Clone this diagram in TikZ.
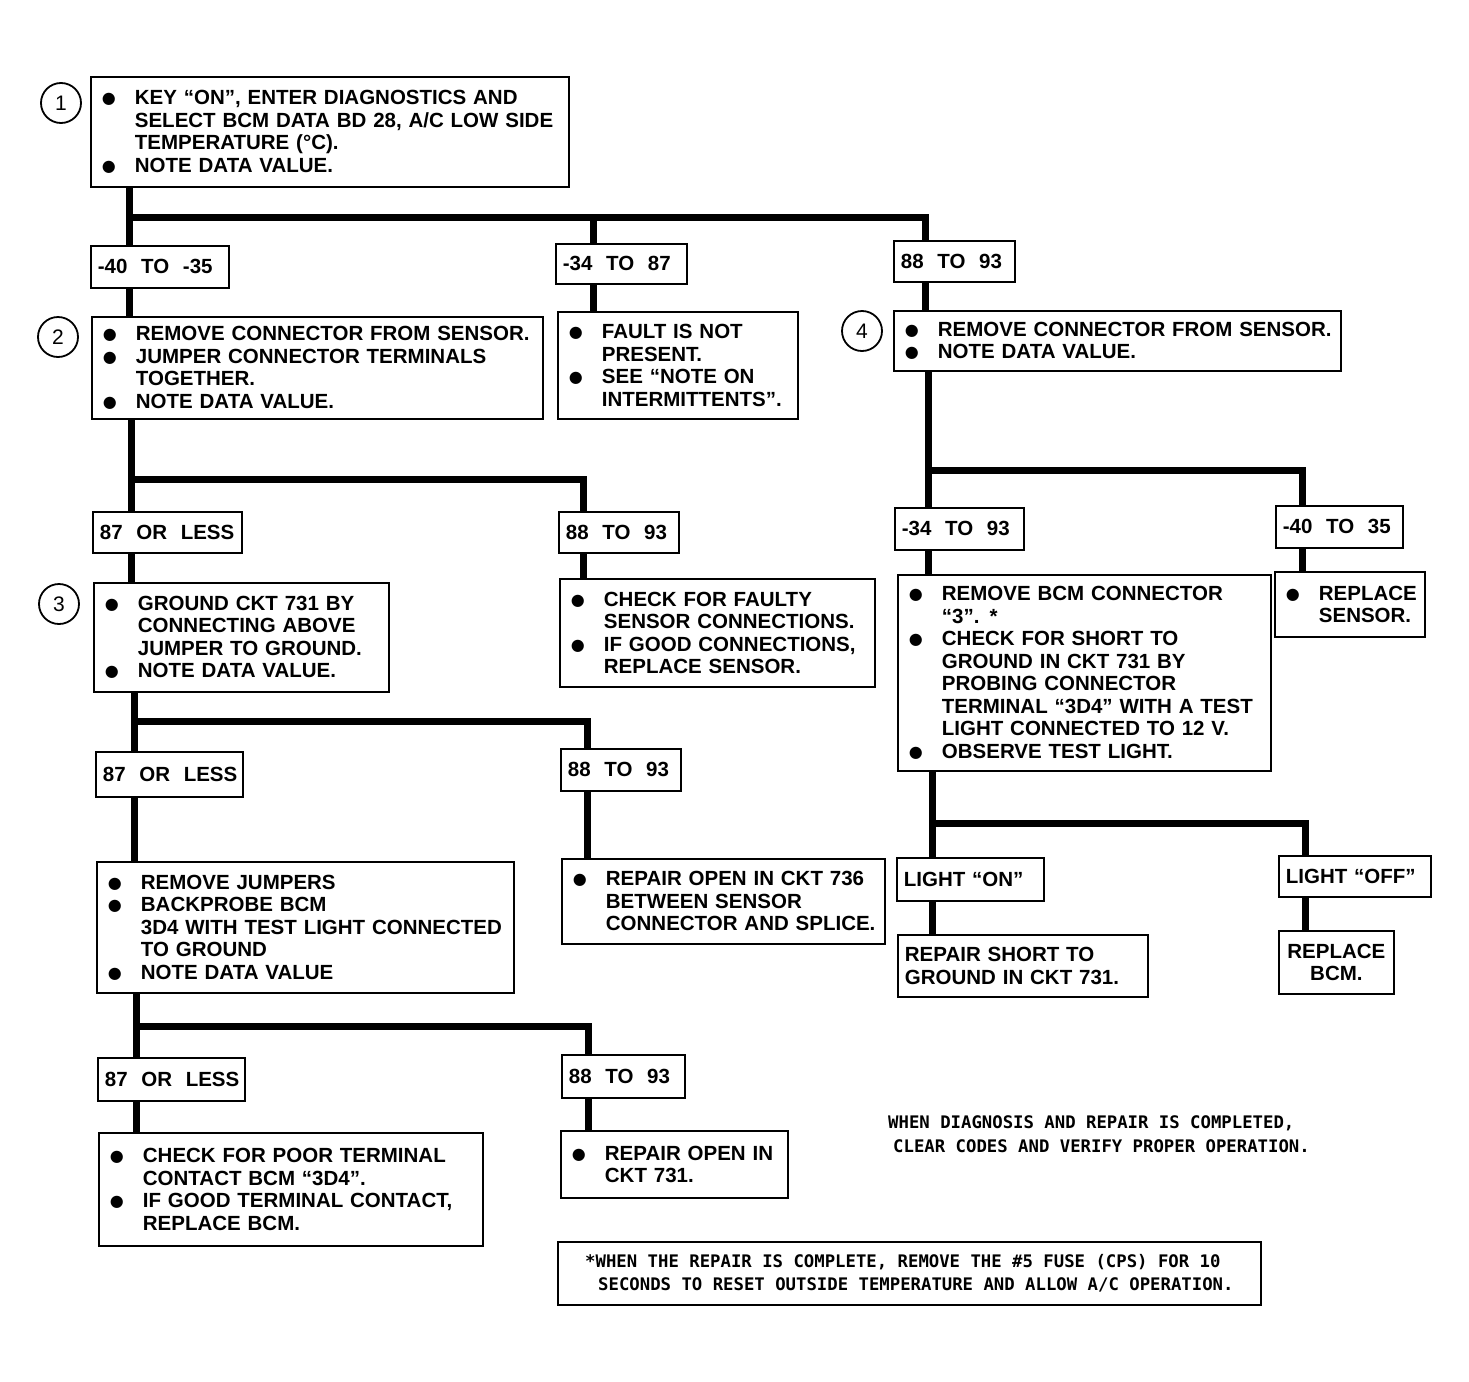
\documentclass[tikz,border=0pt]{standalone}
\usepackage{fontspec}
\setmainfont{Liberation Sans}
\newfontfamily\symf{DejaVu Sans}
\newfontfamily\dotf{DejaVu Sans Mono}
\newcommand\bl{\makebox[37pt][l]{\hspace{4pt}\raisebox{1pt}{\symf\fontsize{16}{16}\selectfont ●}}}
\newcommand\cl{\hspace*{37pt}}
\newcommand\bx[7][]{%
  \pgfmathsetmacro\bxw{#5-#3}%
  \pgfmathsetmacro\bxh{#6-#4}%
  \pgfmathsetmacro\bxt{#5-#3-14}%
  \node[box,minimum width=\bxw pt,minimum height=\bxh pt,text width=\bxt pt,#1] (#2) at (#3,#4) {#7};}
\newcommand\lb[6]{\bx{#1}{#2}{#3}{#4}{#5}{\mbox{#6}}}
\tikzset{
  box/.style={draw,line width=1.8pt,rectangle,anchor=north west,align=left,
    inner xsep=7pt,inner ysep=3pt,font=\bfseries\fontsize{20.5}{22.5}\selectfont},
  circ/.style={draw,circle,line width=1.8pt,minimum size=40pt,inner sep=0pt,
    font=\fontsize{21}{21}\selectfont},
  conn/.style={line width=7pt,line cap=butt,line join=miter},
  dot/.style={font=\dotf\bfseries\fontsize{17.3}{24}\selectfont,align=left,inner sep=0pt,anchor=north west}
}
\begin{document}
\begin{tikzpicture}[x=1pt,y=-1pt]
\fill[white] (0,0) rectangle (1469,1381);
\useasboundingbox (0,0) rectangle (1469,1381);

% step 1
\node[circ] (c1) at (61,103) {1};
\bx{b1}{90}{76}{568}{186}{\bl KEY “ON”, ENTER DIAGNOSTICS AND\\
\cl SELECT BCM DATA BD 28, A/C LOW SIDE\\
\cl TEMPERATURE (°C).\\
\bl NOTE DATA VALUE.}

\lb{l1}{90}{245}{228}{287}{-40 \ TO \ -35}
\lb{l2}{555}{243}{686}{283}{-34 \ TO \ 87}
\lb{l3}{893}{240}{1014}{281}{88 \ TO \ 93}

% step 2
\node[circ] (c2) at (58,337) {2};
\bx{b2}{91}{316}{542}{418}{\bl REMOVE CONNECTOR FROM SENSOR.\\
\bl JUMPER CONNECTOR TERMINALS\\
\cl TOGETHER.\\
\bl NOTE DATA VALUE.}
\bx{b2m}{557}{311}{797}{418}{\bl FAULT IS NOT\\
\cl PRESENT.\\
\bl SEE “NOTE ON\\
\cl INTERMITTENTS”.}

% step 4
\node[circ] (c4) at (862,331) {4};
\bx{b4}{893}{310}{1340}{370}{\bl REMOVE CONNECTOR FROM SENSOR.\\
\bl NOTE DATA VALUE.}

\lb{l4}{92}{511}{241}{552}{87 \ OR \ LESS}
\lb{l5}{558}{511}{678}{552}{88 \ TO \ 93}
\lb{l6}{894}{507}{1023}{549}{-34 \ TO \ 93}
\lb{l7}{1275}{505}{1402}{547}{-40 \ TO \ 35}

% step 3
\node[circ] (c3) at (59,604) {3};
\bx{b3}{93}{582}{388}{691}{\bl GROUND CKT 731 BY\\
\cl CONNECTING ABOVE\\
\cl JUMPER TO GROUND.\\
\bl NOTE DATA VALUE.}
\bx{b5}{559}{578}{874}{686}{\bl CHECK FOR FAULTY\\
\cl SENSOR CONNECTIONS.\\
\bl IF GOOD CONNECTIONS,\\
\cl REPLACE SENSOR.}
\bx{b6}{897}{574}{1270}{770}{\bl REMOVE BCM CONNECTOR\\
\cl “3”. *\\
\bl CHECK FOR SHORT TO\\
\cl GROUND IN CKT 731 BY\\
\cl PROBING CONNECTOR\\
\cl TERMINAL “3D4” WITH A TEST\\
\cl LIGHT CONNECTED TO 12 V.\\
\bl OBSERVE TEST LIGHT.}
\bx{b7}{1274}{571}{1424}{636}{\bl REPLACE\\
\cl SENSOR.}

\lb{l8}{95}{751}{242}{796}{87 \ OR \ LESS}
\lb{l9}{560}{748}{680}{790}{88 \ TO \ 93}
\bx{b8}{96}{861}{513}{992}{\bl REMOVE JUMPERS\\
\bl BACKPROBE BCM\\
\cl 3D4 WITH TEST LIGHT CONNECTED\\
\cl TO GROUND\\
\bl NOTE DATA VALUE}
\bx{b9}{561}{858}{884}{943}{\bl REPAIR OPEN IN CKT 736\\
\cl BETWEEN SENSOR\\
\cl CONNECTOR AND SPLICE.}

\lb{l10}{896}{857}{1043}{900}{LIGHT “ON”}
\lb{l11}{1278}{855}{1430}{896}{LIGHT “OFF”}
\bx{b10}{897}{934}{1147}{996}{REPAIR SHORT TO\\
GROUND IN CKT 731.}
\bx[align=center]{b11}{1278}{930}{1393}{993}{REPLACE\\ BCM.}

\lb{l12}{97}{1057}{244}{1100}{87 \ OR \ LESS}
\lb{l13}{561}{1054}{684}{1097}{88 \ TO \ 93}
\bx{b12}{98}{1132}{482}{1245}{\bl CHECK FOR POOR TERMINAL\\
\cl CONTACT BCM “3D4”.\\
\bl IF GOOD TERMINAL CONTACT,\\
\cl REPLACE BCM.}
\bx{b13}{560}{1130}{787}{1197}{\bl REPAIR OPEN IN\\
\cl CKT 731.}

% notes
\node[dot] (note) at (888,1115) {WHEN DIAGNOSIS AND REPAIR IS COMPLETED,\\
\hspace*{5pt}CLEAR CODES AND VERIFY PROPER OPERATION.};
\node[draw,line width=1.8pt,anchor=north west,minimum width=703pt,minimum height=63pt,
  inner sep=0pt,align=left,
  font=\dotf\bfseries\fontsize{17.3}{23}\selectfont] (fn) at (557,1241)
  {*WHEN THE REPAIR IS COMPLETE, REMOVE THE \#5 FUSE (CPS) FOR 10\\
   \hspace*{13pt}SECONDS TO RESET OUTSIDE TEMPERATURE AND ALLOW A/C OPERATION.};

% connectors
\coordinate (j1) at (129,217); \coordinate (k1) at (593,217); \coordinate (m1) at (925,217);
\draw[conn] (b1.south -| j1) -- (l1.north -| j1);
\draw[conn] (j1) -- (m1) -- (l3.north -| m1);
\draw[conn] (k1) -- (l2.north -| k1);
\draw[conn] (l1.south -| j1) -- (b2.north -| j1);
\draw[conn] (l2.south -| k1) -- (b2m.north -| k1);
\draw[conn] (l3.south -| m1) -- (b4.north -| m1);

\coordinate (j2) at (131,479); \coordinate (k2) at (583,479);
\draw[conn] (b2.south -| j2) -- (l4.north -| j2);
\draw[conn] (j2) -- (k2) -- (l5.north -| k2);
\draw[conn] (l4.south -| j2) -- (b3.north -| j2);
\draw[conn] (l5.south -| k2) -- (b5.north -| k2);

\coordinate (j4) at (928,470); \coordinate (k4) at (1302,470);
\draw[conn] (b4.south -| j4) -- (l6.north -| j4);
\draw[conn] (j4) -- (k4) -- (l7.north -| k4);
\draw[conn] (l6.south -| j4) -- (b6.north -| j4);
\draw[conn] (l7.south -| k4) -- (b7.north -| k4);

\coordinate (j3) at (134,721); \coordinate (k3) at (587,721);
\draw[conn] (b3.south -| j3) -- (l8.north -| j3);
\draw[conn] (j3) -- (k3) -- (l9.north -| k3);
\draw[conn] (l8.south -| j3) -- (b8.north -| j3);
\draw[conn] (l9.south -| k3) -- (b9.north -| k3);

\coordinate (j6) at (932,823); \coordinate (k6) at (1305,823);
\draw[conn] (b6.south -| j6) -- (l10.north -| j6);
\draw[conn] (j6) -- (k6) -- (l11.north -| k6);
\draw[conn] (l10.south -| j6) -- (b10.north -| j6);
\draw[conn] (l11.south -| k6) -- (b11.north -| k6);

\coordinate (j8) at (136,1026); \coordinate (k8) at (588,1026);
\draw[conn] (b8.south -| j8) -- (l12.north -| j8);
\draw[conn] (j8) -- (k8) -- (l13.north -| k8);
\draw[conn] (l12.south -| j8) -- (b12.north -| j8);
\draw[conn] (l13.south -| k8) -- (b13.north -| k8);
\end{tikzpicture}
\end{document}
